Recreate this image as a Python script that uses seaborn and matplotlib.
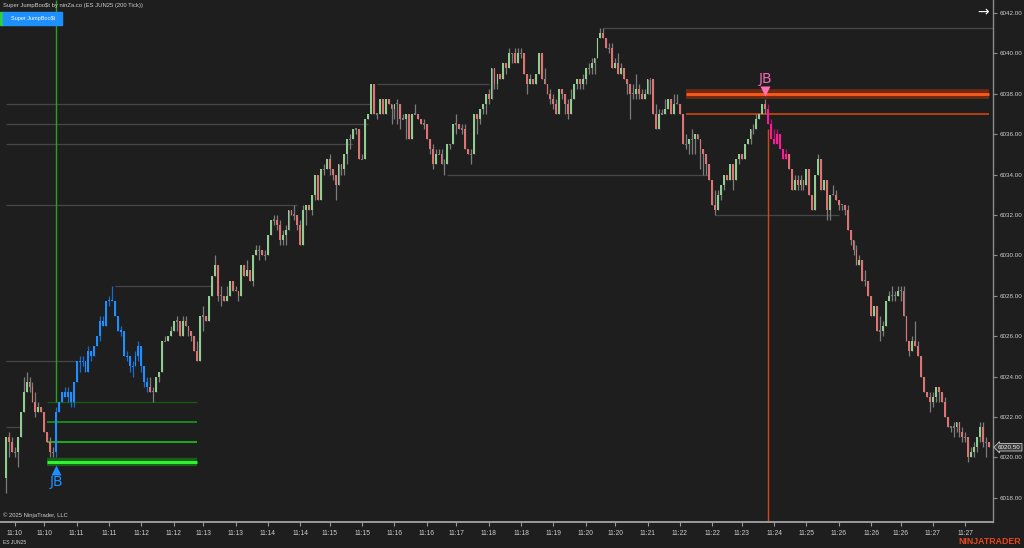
import numpy as np
import matplotlib
matplotlib.use("Agg")
import matplotlib.pyplot as plt
import matplotlib.transforms as mtrans
from matplotlib.patches import Rectangle
import seaborn as sns

# ---------------- data (ES JUN25, 200 tick bars) ----------------
first_open = 6019.0
closes = [
    6021, 6020.75, 6020.25, 6020.25, 6021, 6022.25, 6023.25, 6023.75, 6023.5, 6022.75,
    6022.25, 6022.5, 6022.25, 6021.25, 6020.75, 6020.25, 6020.25, 6022.25, 6022.75, 6023.25,
    6023, 6023.25, 6022.75, 6023.75, 6024.75, 6024.75, 6024.75, 6024.25, 6025.25, 6025,
    6025.5, 6026, 6026.75, 6026.5, 6027.75, 6027.75, 6027.75, 6027, 6026.25, 6026.25,
    6025, 6025, 6024.5, 6024.5, 6025, 6025.5, 6024.5, 6023.75, 6023.5, 6023.25,
    6023.25, 6024, 6024.25, 6025.75, 6025.75, 6026, 6026.25, 6026.75, 6026.75, 6026,
    6026.75, 6026.5, 6026.25, 6026, 6025.25, 6024.75, 6027, 6027, 6026.75, 6028,
    6029, 6029.5, 6028, 6028, 6027.75, 6028, 6028.75, 6028.25, 6028.25, 6028,
    6029.5, 6029, 6029.25, 6028.75, 6030, 6030.25, 6030.25, 6030, 6030, 6031,
    6031.75, 6031.75, 6031.5, 6030.75, 6031, 6031.25, 6032.25, 6032, 6032, 6031.5,
    6030.5, 6032.25, 6032.5, 6032.25, 6033, 6034, 6032.75, 6034.25, 6034.25, 6034.75,
    6034.25, 6034, 6033.5, 6034.5, 6034.25, 6035, 6035.75, 6035.75, 6036.25, 6036.25,
    6034.75, 6034.75, 6036.75, 6037, 6038.5, 6037, 6037, 6037.75, 6037, 6037.75,
    6037.5, 6037.25, 6037.5, 6037.5, 6036.75, 6036.75, 6037, 6035.75, 6037, 6037,
    6036.75, 6036.5, 6036.5, 6035.75, 6035.25, 6034.5, 6035, 6035, 6034.5, 6034.5,
    6035.5, 6035.5, 6036.5, 6036.5, 6036.25, 6036.25, 6035.25, 6035, 6035, 6037,
    6036.75, 6037.25, 6037.5, 6038, 6037.75, 6039.25, 6038.5, 6039, 6038.75, 6039.5,
    6039.25, 6040, 6040, 6039.5, 6040, 6040, 6039, 6038.5, 6038.75, 6038.5,
    6039, 6040, 6038.75, 6038.5, 6038, 6037.75, 6037.5, 6037, 6038.25, 6038,
    6037.5, 6037, 6037.75, 6038.5, 6038.75, 6038.5, 6038.75, 6039.25, 6039.25, 6039.5,
    6039.75, 6040.75, 6041, 6040.75, 6040.25, 6040.25, 6039.25, 6039.5, 6039, 6039.25,
    6038.75, 6038.5, 6038, 6038, 6038.25, 6038, 6037.75, 6038, 6038.75, 6038.75,
    6037, 6036.25, 6037, 6037, 6037.25, 6037.75, 6037, 6037.5, 6037.5, 6037,
    6035.5, 6035.5, 6035.75, 6035.75, 6036, 6035.75, 6035.25, 6035, 6034.5, 6033.75,
    6032.5, 6032.25, 6033, 6033.5, 6034, 6033.75, 6034.5, 6033.75, 6034.75, 6035,
    6034.75, 6035.5, 6035.75, 6036.25, 6036.25, 6036.75, 6037, 6037.5, 6037.25, 6036.5,
    6035.75, 6035.5, 6036, 6035.25, 6034.75, 6035, 6034.25, 6033.25, 6033.75, 6033.5,
    6033.75, 6033.5, 6034.25, 6033, 6032.25, 6034, 6034.75, 6033.25, 6033.75, 6032.25,
    6033, 6033, 6032.75, 6032.5, 6032.5, 6032.25, 6031.25, 6030.75, 6030.25, 6029.5,
    6029.75, 6028.75, 6028.75, 6028, 6027, 6027.5, 6026.25, 6026.25, 6026.5, 6027.75,
    6028, 6028, 6028, 6028.25, 6028.25, 6027, 6025.75, 6025.25, 6025.75, 6025.5,
    6025, 6024, 6023.25, 6023, 6022.75, 6023, 6023.5, 6023.25, 6022.75, 6022,
    6021.5, 6021.5, 6021.5, 6021.75, 6021.25, 6021, 6021, 6020, 6020.25, 6020.5,
    6021, 6021.5, 6020.75, 6020.75, 6020.5,
]
highs = [
    6021, 6021.25, 6021, 6020.5, 6021, 6022.25, 6024, 6024.25, 6024, 6023.75,
    6023.25, 6022.75, 6022.5, 6022.25, 6021.25, 6021, 6020.5, 6022.5, 6022.75, 6023.25,
    6023.5, 6023.5, 6023, 6023.75, 6024.75, 6025, 6025, 6024.75, 6025.5, 6025.25,
    6025.5, 6026, 6027, 6027, 6027.75, 6028, 6028.5, 6027.75, 6027, 6026.5,
    6026.25, 6025.25, 6025, 6024.75, 6025.25, 6025.75, 6025.5, 6024.5, 6024, 6024,
    6023.5, 6024, 6024.25, 6025.75, 6026, 6026, 6026.5, 6026.75, 6027, 6026.75,
    6027, 6027, 6026.5, 6026.25, 6026, 6025.75, 6027, 6027.5, 6027, 6028,
    6029, 6030, 6029.5, 6028.5, 6028, 6028.5, 6028.75, 6028.75, 6028.5, 6028.25,
    6029.5, 6029.5, 6029.75, 6029.25, 6030, 6030.5, 6030.5, 6030.25, 6030.25, 6031,
    6031.75, 6032, 6032, 6031.75, 6031.25, 6031.5, 6032.25, 6032.25, 6032.5, 6032,
    6031.75, 6032.5, 6032.5, 6032.5, 6033, 6034, 6034, 6034.25, 6034.5, 6034.75,
    6035, 6034.25, 6034, 6034.5, 6034.5, 6035, 6035.75, 6036, 6036.25, 6036.25,
    6036.25, 6035, 6036.75, 6037, 6038.5, 6038.5, 6037, 6037.75, 6037.75, 6037.75,
    6037.75, 6037.5, 6037.5, 6037.75, 6037.5, 6037, 6037, 6037, 6037, 6037.5,
    6037, 6036.75, 6036.75, 6036.5, 6035.75, 6035.5, 6035.25, 6035.25, 6035.25, 6034.75,
    6035.5, 6035.5, 6036.5, 6037, 6036.5, 6036.5, 6036.5, 6035.25, 6035.25, 6037,
    6037, 6037.25, 6037.5, 6038, 6038.25, 6039.25, 6039.25, 6039, 6039, 6039.5,
    6039.5, 6040.25, 6040, 6040.25, 6040.25, 6040.25, 6040, 6039, 6039, 6038.75,
    6039, 6040, 6040, 6039.25, 6038.5, 6038.25, 6038, 6037.75, 6038.25, 6038.25,
    6038, 6037.75, 6038.25, 6038.5, 6038.75, 6038.75, 6039, 6039.25, 6039.5, 6039.75,
    6039.75, 6040.75, 6041.25, 6041.25, 6040.75, 6040.5, 6040.5, 6039.75, 6040, 6039.5,
    6039.25, 6038.75, 6038.5, 6038.5, 6039, 6038.5, 6038.25, 6038.25, 6038.75, 6038.75,
    6038.75, 6037.5, 6037.25, 6037.25, 6037.75, 6037.75, 6037.75, 6038, 6038, 6037.5,
    6037, 6036, 6035.75, 6036.25, 6036, 6036, 6035.75, 6035.25, 6035, 6034.5,
    6033.75, 6033.25, 6033.25, 6033.5, 6034, 6034, 6034.5, 6034.5, 6034.75, 6035,
    6035, 6035.5, 6035.75, 6036.25, 6036.5, 6037, 6037, 6037.5, 6037.75, 6037.5,
    6036.75, 6036.25, 6036.25, 6036, 6035.25, 6035.25, 6035, 6034.25, 6034, 6034,
    6034, 6033.75, 6034.25, 6034.25, 6033, 6034, 6035, 6034.75, 6033.75, 6033.75,
    6033, 6033.5, 6033.25, 6032.75, 6032.5, 6032.5, 6032.5, 6031.25, 6030.75, 6030.5,
    6030, 6029.75, 6029.25, 6028.75, 6028, 6027.5, 6027.5, 6027, 6026.75, 6027.75,
    6028.25, 6028.5, 6028.25, 6028.5, 6028.5, 6028.5, 6027, 6025.75, 6026, 6026.75,
    6025.75, 6025, 6024, 6023.25, 6023.25, 6023.25, 6023.5, 6023.5, 6023.25, 6023,
    6022, 6021.5, 6021.75, 6021.75, 6021.75, 6021.5, 6021.25, 6021, 6020.5, 6020.75,
    6021, 6021.75, 6021.75, 6021, 6020.75,
]
lows = [
    6018.25, 6020, 6020.25, 6020, 6019.5, 6021, 6022.25, 6023.25, 6023.25, 6022.75,
    6022, 6022.25, 6022.25, 6021.25, 6020.75, 6020, 6020, 6020, 6022.5, 6023,
    6023, 6022.75, 6022.5, 6022.5, 6023.75, 6024.25, 6024.5, 6024.25, 6024.5, 6024.75,
    6025.25, 6025.5, 6025.75, 6026.5, 6026.5, 6027.5, 6027.75, 6027, 6026.25, 6026,
    6025, 6024.75, 6024.25, 6024, 6024.5, 6024.75, 6024.25, 6023.5, 6023.25, 6023.25,
    6022.75, 6023.25, 6023.75, 6024.25, 6025.75, 6025.75, 6026, 6026.25, 6026.25, 6026,
    6026, 6026.5, 6026, 6025.75, 6025.25, 6024.75, 6024.75, 6026.25, 6026.75, 6026.75,
    6028, 6029, 6027.75, 6027.5, 6027.75, 6027.75, 6028, 6028.25, 6028.25, 6027.75,
    6028, 6029, 6029, 6028.75, 6028.5, 6030, 6029.75, 6030, 6029.75, 6030,
    6031, 6031.5, 6031.25, 6030.5, 6030.5, 6030.5, 6031.25, 6032, 6031.75, 6031.25,
    6030.5, 6030.5, 6031.5, 6032.25, 6032, 6032.75, 6032.75, 6032.75, 6034, 6034.25,
    6034, 6033.75, 6032.75, 6033.5, 6034, 6034, 6034.5, 6035.25, 6035.75, 6036,
    6034.75, 6034.75, 6034.75, 6036.75, 6037, 6037, 6036.75, 6037, 6037, 6037,
    6037.5, 6036.5, 6036.75, 6036.5, 6036.25, 6036.75, 6035.75, 6035.75, 6035.75, 6037,
    6036.75, 6036.5, 6036.25, 6035.75, 6035, 6034.25, 6034.5, 6035, 6034.5, 6034,
    6034.5, 6035.25, 6035.5, 6036, 6036.25, 6036, 6035.25, 6035, 6034.5, 6035,
    6036, 6036.5, 6037, 6037, 6037.5, 6037.75, 6038.25, 6038.25, 6038.75, 6038.75,
    6039, 6039.25, 6039.5, 6039.5, 6039.5, 6039.75, 6039, 6038, 6038.5, 6038.5,
    6038.5, 6039, 6038.75, 6038.5, 6038, 6037.5, 6037.25, 6037, 6037, 6037.75,
    6037, 6036.75, 6037, 6037.75, 6038.25, 6038.25, 6038.25, 6038.5, 6039, 6039,
    6039, 6039.75, 6040.75, 6040.75, 6040.25, 6040, 6039.25, 6039.25, 6039, 6039,
    6038.75, 6038, 6036.75, 6037.75, 6037.75, 6037.75, 6037.75, 6037.75, 6038, 6038,
    6037, 6036.25, 6036.25, 6037, 6037, 6037.25, 6037, 6037, 6037.5, 6037,
    6035.5, 6035.25, 6035, 6035, 6035, 6035.75, 6034.25, 6034, 6034, 6033.75,
    6032.5, 6032, 6032.25, 6032.75, 6033.25, 6033.75, 6033.75, 6033.25, 6033.75, 6034.5,
    6034.75, 6034.75, 6035.5, 6035.5, 6036, 6036.25, 6036.75, 6037, 6037, 6036.5,
    6035.75, 6035.5, 6035.5, 6035.25, 6034.75, 6034.75, 6034.25, 6033.25, 6033.25, 6033.25,
    6033.25, 6033.25, 6033.5, 6033, 6032.25, 6032.25, 6034, 6033.25, 6033.25, 6031.75,
    6031.75, 6033, 6032.75, 6032.25, 6032.25, 6032, 6031.25, 6030.5, 6030, 6029.5,
    6029.5, 6028.75, 6028.5, 6028, 6027, 6027, 6026.25, 6025.75, 6026, 6026.5,
    6027.75, 6027.75, 6027.75, 6028, 6027.75, 6027, 6025.75, 6025, 6025.25, 6025.5,
    6025, 6024, 6023.25, 6023, 6022.25, 6022.5, 6022.75, 6022.75, 6022.75, 6022,
    6021.5, 6021.25, 6021, 6021.25, 6021, 6020.75, 6020.75, 6019.75, 6020, 6020,
    6020.25, 6020.75, 6020.5, 6020, 6020.5,
]

# signal bars (bar index) and trend-colour ranges
jb_up_bar = 17
jb_up_last = 48
jb_dn_bar = 259
jb_dn_last = 265

# JumpBoost level lines
jb_up_levels = [6019.75, 6020.75, 6021.75, 6022.75]
jb_up_from, jb_up_to = 14, 65
jb_dn_levels = [6038.0, 6037.0]
jb_dn_from = 231

# swing-level lines (price, first bar, last bar)
swing_prices = [6041.25, 6038.5, 6037.5, 6036.5, 6035.5, 6032.5, 6028.5, 6024.75, 6021.5, 6034.0, 6032.0]
swing_start = [203, 126, 0, 0, 0, 0, 37, 0, 0, 150, 241]
swing_end = [336, 164, 124, 123, 118, 99, 70, 24, 5, 239, 283]

# time axis
time_tick_bars = [3, 13, 24, 35, 46, 57, 67, 78, 89, 100, 110, 121, 132, 143, 153, 164,
                  175, 186, 197, 207, 218, 229, 240, 250, 261, 272, 283, 294, 304, 315, 326]
time_labels = ["11:10", "11:10", "11:11", "11:11", "11:12", "11:12", "11:13", "11:13",
               "11:14", "11:14", "11:15", "11:15", "11:16", "11:16", "11:17", "11:18",
               "11:18", "11:19", "11:20", "11:20", "11:21", "11:22", "11:22", "11:23",
               "11:24", "11:25", "11:26", "11:26", "11:26", "11:27", "11:27"]
price_ticks = list(range(6018, 6043, 2))
last_price = 6020.50

# ---------------- style ----------------
BG = "#1e1e1e"
UP = "#8fce8f"
DN = "#e07272"
WICK = "#7c7c7c"
BLUE = "#1e8fff"
BLUE_W = "#1a6cc8"
PINK = "#ff1a9a"
PINK_W = "#b8106e"
TXT = "#cfcfcf"

sns.set_theme(style="dark", rc={"axes.facecolor": BG, "figure.facecolor": BG,
                                "savefig.facecolor": BG})
plt.rcParams["font.family"] = ["Liberation Sans", "DejaVu Sans"]

W, H = 1024, 548
fig = plt.figure(figsize=(W / 100, H / 100), dpi=100)
ax = fig.add_axes([0, 26 / H, 993 / W, 522 / H])
ax.set_facecolor(BG)

n = len(closes)
idx = np.arange(n)
c = np.array(closes, float)
o = np.array([first_open] + closes[:-1], float)
hi = np.maximum(np.array(highs, float), np.maximum(o, c))
lo = np.minimum(np.array(lows, float), np.minimum(o, c))

body_col = np.where(c > o, UP, np.where(c < o, DN, WICK)).astype(object)
wick_col = np.array([WICK] * n, dtype=object)
body_col[jb_up_bar:jb_up_last + 1] = BLUE
wick_col[jb_up_bar:jb_up_last + 1] = BLUE_W
body_col[jb_dn_bar:jb_dn_last + 1] = PINK
wick_col[jb_dn_bar:jb_dn_last + 1] = PINK_W

ylo, yhi = 6016.80, 6042.64
xlo, xhi = -2.04, 335.4
ax.set_xlim(xlo, xhi)
ax.set_ylim(ylo, yhi)

# swing levels
for p, s, e in zip(swing_prices, swing_start, swing_end):
    ax.hlines(p, s, min(e, xhi), color="#474747", lw=0.9, zorder=1)

# JB up levels
ax.hlines(jb_up_levels[0], jb_up_from, jb_up_to, color="#1b5e1b", lw=6.0, zorder=1.5)
ax.hlines(jb_up_levels[0], jb_up_from, jb_up_to, color="#2cf52c", lw=2.2, zorder=1.6)
ax.hlines(jb_up_levels[1], jb_up_from, jb_up_to, color="#1fa51f", lw=1.5, zorder=1.5)
ax.hlines(jb_up_levels[2], jb_up_from, jb_up_to, color="#188a18", lw=1.4, zorder=1.5)
ax.hlines(jb_up_levels[3], jb_up_from, jb_up_to, color="#125c12", lw=1.0, zorder=1.5)
ax.vlines(jb_up_bar, jb_up_levels[3], yhi, color="#22a622", lw=1.0, zorder=1.5)

# JB down levels
ax.hlines(jb_dn_levels[0], jb_dn_from, xhi - 1.3, color="#6e2a12", lw=7.0, zorder=1.5)
ax.hlines(jb_dn_levels[0], jb_dn_from, xhi - 1.3, color="#ff5a1a", lw=2.0, zorder=1.6)
ax.hlines(jb_dn_levels[1], jb_dn_from, xhi - 1.3, color="#c2420f", lw=1.3, zorder=1.5)
ax.vlines(jb_dn_bar, ylo, 6036.25, color="#d2481a", lw=1.0, zorder=1.5)

# candles
ax.vlines(idx, lo, hi, colors=list(wick_col), lw=0.9, zorder=2)
hgt = c - o
bot = o.copy()
flat = np.abs(hgt) < 1e-9
hgt[flat] = 0.06
bot[flat] = o[flat] - 0.03
ax.bar(idx, hgt, bottom=bot, width=0.64, color=list(body_col), linewidth=0, zorder=3)

# JB markers
ax.plot([jb_up_bar], [6019.38], marker="^", ms=6.5, color=BLUE, mec="none", zorder=4)
ax.text(jb_up_bar, 6018.8, "JB", color=BLUE, fontsize=10, ha="center", va="center",
        family=["DejaVu Sans"], zorder=4)
ax.plot([jb_dn_bar - 1], [6038.14], marker="v", ms=6.5, color="#ff6fb8", mec="none", zorder=4)
ax.text(jb_dn_bar - 1, 6038.72, "JB", color="#f06ab4", fontsize=10, ha="center",
        va="center", family=["DejaVu Sans"], zorder=4)

# axes styling
for s in ["top", "left"]:
    ax.spines[s].set_visible(False)
ax.spines["right"].set_color("#8c8c8c")
ax.spines["right"].set_linewidth(1.0)
ax.spines["bottom"].set_color("#9a9a9a")
ax.spines["bottom"].set_linewidth(1.4)
ax.yaxis.tick_right()
ax.set_yticks(price_ticks)
ax.set_yticklabels([f"{p:.2f}" for p in price_ticks])
ax.tick_params(axis="y", labelsize=4.5, labelcolor=TXT, color="#8c8c8c", length=3,
               width=0.8, pad=1.5, right=True, left=False)
ax.set_xticks(time_tick_bars)
ax.set_xticklabels(time_labels)
ax.tick_params(axis="x", labelsize=4.8, labelcolor=TXT, color="#9a9a9a", length=3,
               width=0.8, pad=2.5, bottom=True)
ax.grid(False)

# last price marker
ax.text(1.005, last_price, "6020.50", transform=mtrans.blended_transform_factory(ax.transAxes, ax.transData),
        fontsize=4.5, color="#f0f0f0", ha="left", va="center", zorder=6, clip_on=False,
        bbox=dict(boxstyle="larrow,pad=0.2", fc="#3a3a3a", ec="#c8c8c8", lw=0.6))

# header / footer texts
def fx(x):
    return x / W

def fy(y):
    return 1 - y / H

fig.text(fx(3), fy(6), "Super JumpBoo$t by ninZa.co (ES JUN25 (200 Tick))", fontsize=4.2,
         color=TXT, ha="left", va="center")
fig.add_artist(Rectangle((0, fy(25)), fx(3), 13 / H, transform=fig.transFigure,
                         color="#2ecc40", zorder=5))
fig.add_artist(Rectangle((fx(3), fy(25)), fx(59), 13 / H, transform=fig.transFigure,
                         color=BLUE, zorder=5))
fig.text(fx(33), fy(18.5), "Super JumpBoo$t", fontsize=4.0, color="white", ha="center",
         va="center", zorder=6)
fig.text(fx(983), fy(12), "\u2192", fontsize=10, color="white", ha="center", va="center",
         family=["DejaVu Sans"])
fig.text(fx(3), fy(515), "\u00a9 2025 NinjaTrader, LLC", fontsize=4.2, color=TXT,
         ha="left", va="center")
fig.text(fx(3), fy(543), "ES JUN25", fontsize=3.6, color=TXT, ha="left", va="center")
fig.text(fx(1021), fy(542), "NINJATRADER", fontsize=6.3, color="#e8461c", ha="right",
         va="center", weight="bold")

fig.savefig("out.png", dpi=100, facecolor=BG)
